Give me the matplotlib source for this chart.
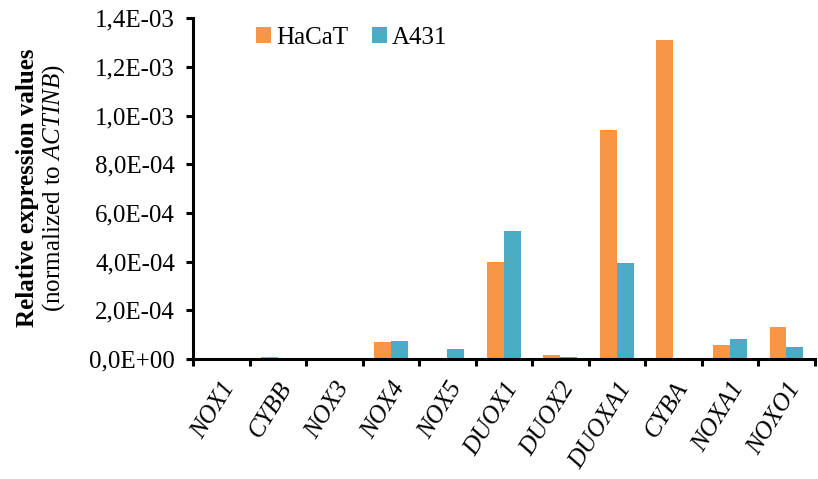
import numpy as np
import matplotlib
matplotlib.use('Agg')
import matplotlib.pyplot as plt
from matplotlib.ticker import FuncFormatter, FixedLocator

## data: relative expression (normalized to ACTINB)
genes = ['NOX1', 'CYBB', 'NOX3', 'NOX4', 'NOX5', 'DUOX1', 'DUOX2',
         'DUOXA1', 'CYBA', 'NOXA1', 'NOXO1']
hacat = [0.0, 1.0e-5, 0.0, 6.8e-5, 0.0, 4.0e-4, 1.8e-5,
         9.4e-4, 1.31e-3, 5.9e-5, 1.33e-4]
a431 = [0.0, 0.0, 0.0, 7.6e-5, 4.0e-5, 5.25e-4, 9.0e-6,
        3.95e-4, 0.0, 8.4e-5, 4.8e-5]

## style
plt.rcParams['font.family'] = 'Liberation Serif'
plt.rcParams['mathtext.fontset'] = 'custom'
plt.rcParams['mathtext.rm'] = 'Liberation Serif'
plt.rcParams['mathtext.it'] = 'Liberation Serif:italic'
c_hacat = '#F79646'
c_a431 = '#4BACC6'
fs = 18

fig = plt.figure(figsize=(8.18, 4.79), dpi=100)
ax = fig.add_axes([0.236, 0.2505, 0.76, 0.7115])

x = np.arange(len(genes))
w = 0.3
ax.bar(x - w/2, hacat, w, color=c_hacat, label='HaCaT')
ax.bar(x + w/2, a431, w, color=c_a431, label='A431')

ax.set_xlim(-0.5, len(genes) - 0.5)
ax.set_ylim(0, 1.4e-3)

# y axis: ticks every 2E-04, comma as decimal separator
ax.set_yticks(np.arange(0, 1.41e-3, 2e-4))
ax.yaxis.set_major_formatter(FuncFormatter(lambda v, p: ('%.1E' % v).replace('.', ',')))
ax.tick_params(axis='y', direction='out', length=5, width=2.2, labelsize=fs, pad=8)

# x axis: tick marks between categories, labels at centers
ax.set_xticks(x)
ax.set_xticklabels(genes, rotation=58, ha='right', rotation_mode='anchor',
                   fontstyle='italic', fontsize=fs)
ax.tick_params(axis='x', which='major', length=0, pad=14)
ax.xaxis.set_minor_locator(FixedLocator(np.arange(-0.5, len(genes), 1.0)))
ax.tick_params(axis='x', which='minor', direction='out', length=5, width=2.2)

for s in ['top', 'right']:
    ax.spines[s].set_visible(False)
for s in ['left', 'bottom']:
    ax.spines[s].set_linewidth(2.2)

ax.legend(loc='upper left', bbox_to_anchor=(0.065, 1.04), ncol=2, frameon=False,
          fontsize=fs, handlelength=0.6, handleheight=0.6, handletextpad=0.2,
          columnspacing=0.95)

# two-line y label
fig.text(0.034, 0.608, 'Relative expression values', rotation=90,
         ha='center', va='center', fontsize=fs, fontweight='bold')
fig.text(0.066, 0.608, r'(normalized to $\mathit{ACTINB}$)', rotation=90,
         ha='center', va='center', fontsize=fs)

fig.savefig('out.png', dpi=100)
